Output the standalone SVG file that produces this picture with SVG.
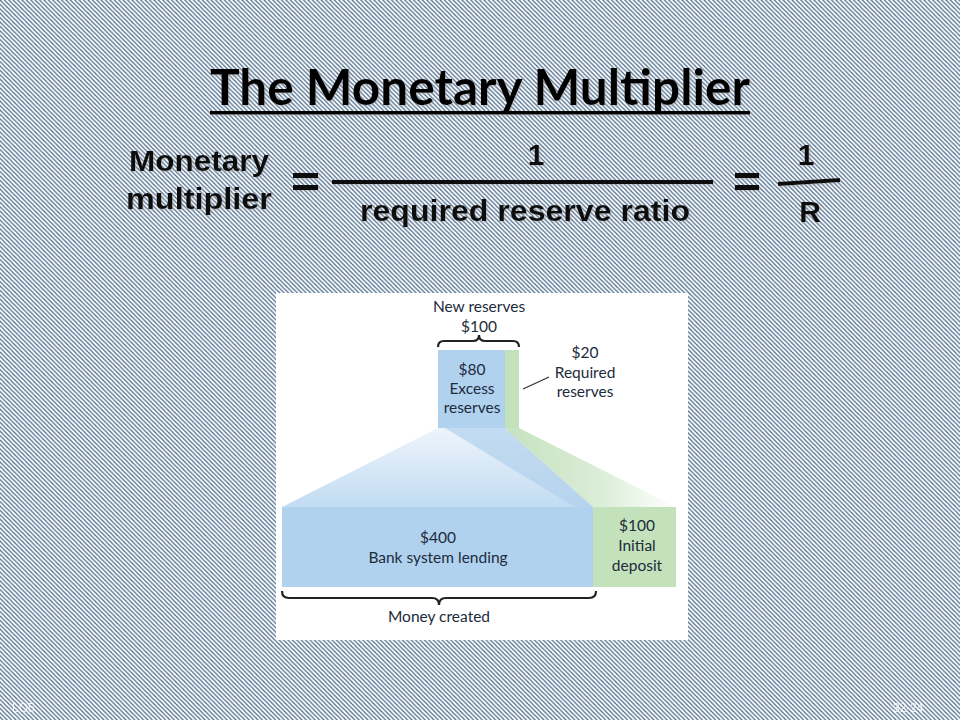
<svg xmlns="http://www.w3.org/2000/svg" width="960" height="720" viewBox="0 0 960 720">
<defs>
<pattern id="hatch" width="4.4" height="4.4" patternUnits="userSpaceOnUse">
<rect width="4.4" height="4.4" fill="#ffffff"/>
<path d="M-1,-1 L5.4,5.4 M-1,3.4 L1,5.4 M3.4,-1 L5.4,1" stroke="#47678a" stroke-width="1.2"/>
</pattern>
<linearGradient id="fan" x1="0" y1="0" x2="0" y2="1">
<stop offset="0" stop-color="#edf4fb"/>
<stop offset="1" stop-color="#c2dcf2"/>
</linearGradient>
<linearGradient id="gfade" x1="0" y1="0" x2="1" y2="0">
<stop offset="0" stop-color="#bcdcb4"/>
<stop offset="0.55" stop-color="#d4ead0"/>
<stop offset="1" stop-color="#ffffff"/>
</linearGradient>
<filter id="sh" x="-5%" y="-20%" width="110%" height="140%">
<feGaussianBlur in="SourceAlpha" stdDeviation="1"/>
<feOffset dx="1.2" dy="1.2" result="b"/>
<feFlood flood-color="#9a9a9a" flood-opacity="0.5"/>
<feComposite in2="b" operator="in"/>
<feMerge><feMergeNode/><feMergeNode in="SourceGraphic"/></feMerge>
</filter>
<style>
.title{font-family:Lato,"Open Sans",sans-serif;font-weight:bold;font-size:49px;fill:#000}
.f{font-family:"Liberation Sans",Arial,sans-serif;font-weight:bold;font-size:30px;fill:#111}
.p{font-family:Lato,"Open Sans",sans-serif;font-size:15.5px;fill:#1d2b3c;text-anchor:middle}
.foot{font-family:"Liberation Sans",Arial,sans-serif;font-size:12px;fill:#ffffff;opacity:0.85}
.brace{fill:none;stroke:#222;stroke-width:2.2}
</style>
</defs>
<rect width="960" height="720" fill="url(#hatch)"/>

<g id="title" filter="url(#sh)">
<text class="title" x="210" y="105" textLength="540" lengthAdjust="spacingAndGlyphs">The Monetary Multiplier</text>
<rect x="210" y="111" width="540" height="3.5" fill="#000"/>
</g>

<g id="formula" filter="url(#sh)">
<text class="f" x="199" y="171" text-anchor="middle" textLength="140" lengthAdjust="spacingAndGlyphs">Monetary</text>
<text class="f" x="199" y="209" text-anchor="middle" textLength="146" lengthAdjust="spacingAndGlyphs">multiplier</text>
<rect x="293" y="173" width="25" height="5" fill="#111"/>
<rect x="293" y="185" width="25" height="5" fill="#111"/>
<text class="f" x="536" y="165" text-anchor="middle">1</text>
<rect x="332" y="180" width="381" height="4" fill="#111"/>
<text class="f" x="525" y="221" text-anchor="middle" textLength="330" lengthAdjust="spacingAndGlyphs">required reserve ratio</text>
<rect x="735" y="173" width="24" height="5" fill="#111"/>
<rect x="735" y="185" width="24" height="5" fill="#111"/>
<text class="f" x="806" y="165" text-anchor="middle">1</text>
<path d="M778,184 L840,180" stroke="#111" stroke-width="4"/>
<text class="f" x="810" y="222" text-anchor="middle">R</text>
</g>

<g id="panel">
<rect x="276" y="293" width="412" height="347" fill="#ffffff"/>
</g>

<g id="connectors">
<polygon points="438,428 505,428 593,507 282,507" fill="url(#fan)"/>
<polygon points="445,428 505,428 593,507 575,507" fill="#b0d0ec" opacity="0.7"/>
<polygon points="505,428 519,428 676,507 593,507" fill="url(#gfade)" opacity="0.85"/>
<path class="brace" d="M438,347 q0,-6 6,-6 L473,341 q6,0 6,-6 q0,6 6,6 L513,341 q6,0 6,6"/>
<path class="brace" d="M282,591 q0,7 7,7 L432,598 q7,0 7,7 q0,-7 7,-7 L589,598 q7,0 7,-7"/>
<line x1="523" y1="389" x2="549" y2="377" stroke="#333" stroke-width="1.3"/>
</g>

<g id="new-reserves">
<text class="p" x="479" y="312">New reserves</text>
<text class="p" x="479" y="332">$100</text>
</g>

<g id="excess">
<rect x="438" y="350" width="67" height="78" fill="#b0d2ef"/>
<text class="p" x="472" y="375">$80</text>
<text class="p" x="472" y="394">Excess</text>
<text class="p" x="472" y="413">reserves</text>
</g>

<g id="required">
<rect x="505" y="350" width="14" height="78" fill="#c3e1bb"/>
<text class="p" x="585" y="358">$20</text>
<text class="p" x="585" y="378">Required</text>
<text class="p" x="585" y="397">reserves</text>
</g>

<g id="lending">
<rect x="282" y="507" width="311" height="80" fill="#b0d2ef"/>
<text class="p" x="438" y="543">$400</text>
<text class="p" x="438" y="563">Bank system lending</text>
</g>

<g id="deposit">
<rect x="593" y="507" width="83" height="80" fill="#c3e1bb"/>
<text class="p" x="637" y="531">$100</text>
<text class="p" x="637" y="551">Initial</text>
<text class="p" x="637" y="571">deposit</text>
</g>

<g id="money-created">
<text class="p" x="439" y="622">Money created</text>
</g>

<g id="footer">
<text class="foot" x="12" y="712">LO5</text>
<text class="foot" x="893" y="712">32-24</text>
</g>
</svg>
